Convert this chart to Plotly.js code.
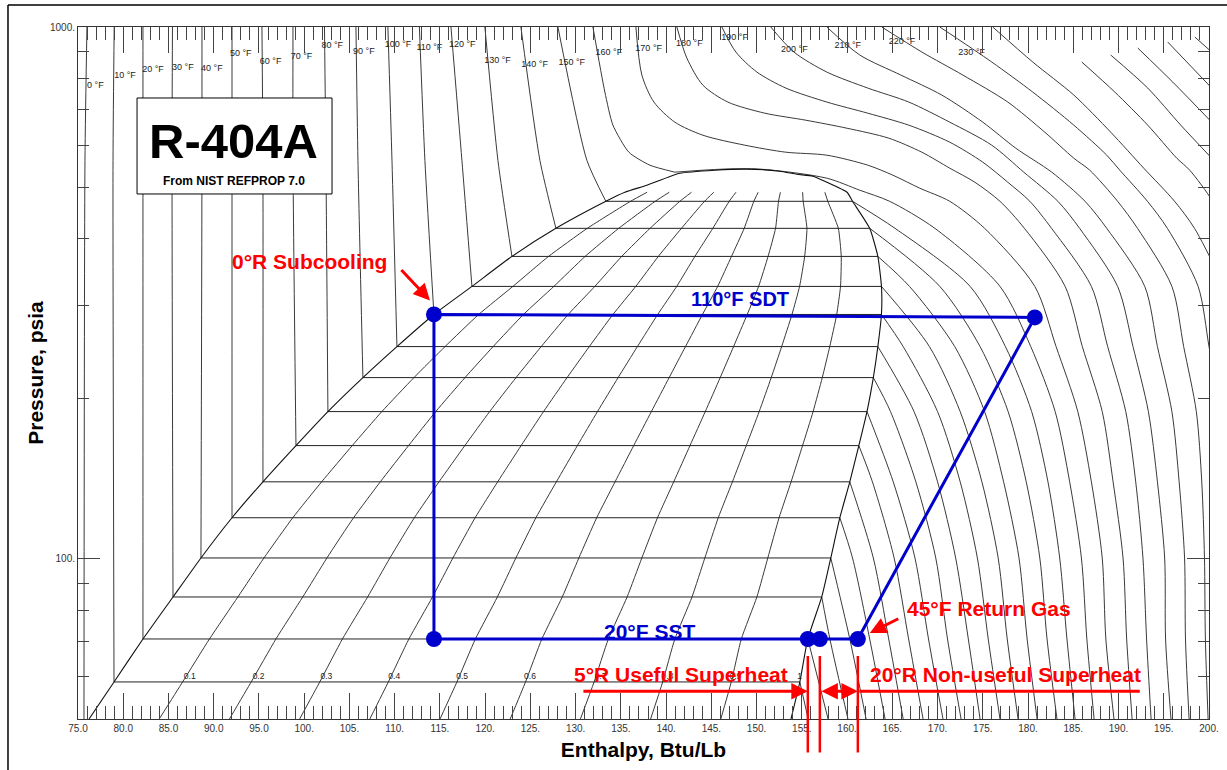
<!DOCTYPE html>
<html>
<head>
<meta charset="utf-8">
<script src="https://cdn.plot.ly/plotly-3.0.1.min.js"></script>
<style>html,body{margin:0;padding:0;background:#fff}#chart{width:1227px;height:770px}</style>
</head>
<body>
<div id="chart"></div>
<script>
// ---------------- DATA ----------------
// Saturation dome: index 0 = 50 psia (bottom), 1..15 = 10..150 °F, 16.. = near critical point
const liqH = [76.22, 78.98, 82.18, 85.50, 88.59, 92.02, 95.44, 99.09, 102.62, 106.49, 110.25, 114.34, 118.54, 122.96, 127.82, 133.34, 135.44, 137.87, 141.52, 145.4, 148.9];
const liqP = [50, 58.7, 70.7, 84.8, 100.4, 119.5, 139.6, 163.3, 189.2, 219.2, 250.7, 288.1, 325.3, 370.4, 418.3, 470.2, 489.0, 504.1, 530.9, 538.0, 540.4];
const vapH = [153.8, 154.78, 155.66, 157.2, 158.2, 159.2, 160.3, 161.3, 162.2, 162.9, 163.4, 163.8, 163.8, 163.4, 162.5, 160.6, 160.0, 157.76, 156.22, 154.45, 152.57];
const vapP = [50, 58.7, 70.7, 84.8, 100.4, 119.5, 139.6, 163.3, 189.2, 219.2, 250.7, 288.1, 325.3, 370.4, 418.3, 470.2, 489.0, 510.7, 524.2, 528.5, 535.7];
const satTemps = [10, 20, 30, 40, 50, 60, 70, 80, 90, 100, 110, 120, 130, 140, 150];
const qualities = [0.1, 0.2, 0.3, 0.4, 0.5, 0.6, 0.7, 0.8, 0.9];

// Sub-cooled liquid isotherms (0..150 °F): h at 1000 psia and at 561.6 psia
const subTemps = [0, 10, 20, 30, 40, 50, 60, 70, 80, 90, 100, 110, 120, 130, 140, 150];
const subTopH = [75.99, 79.0, 82.18, 85.44, 88.70, 92.02, 95.33, 98.76, 102.24, 105.72, 109.25, 112.73, 116.22, 119.97, 123.95, 128.04];
const subMidH = [75.77, 78.87, 82.18, 85.39, 88.70, 92.02, 95.44, 98.76, 102.40, 105.94, 109.70, 113.34, 117.43, 121.41, 126.05, 131.24];
const subMidP = 561.6;
const zeroLineBottomH = 75.66;

// Superheated isotherms
const shLevelP  = [470.2, 418.3, 325.3, 250.7, 189.2, 139.6, 100.4, 70.7, 50];
const shLevelT0 = [160, 150, 130, 110, 90, 70, 50, 30, 10];
const sh470 = [164.7, 171.35, 176.9, 180.2, 183.3, 186.3, 189.9, 193.2, 196.2, 200.4];
const sh418 = [165.3, 169.7, 175.2, 179.6, 182.6, 185.7, 188.7, 192.1, 195.4, 198.4, 201.8];
const sh325 = [166.9, 170.25, 173.6, 176.9, 180.75, 184.1, 187.0, 189.9, 192.9, 195.9, 198.8, 201.7];
const sh251 = [166.2, 169.1, 171.9, 174.7, 177.5, 180.3, 183.1, 186.0, 188.8, 191.6, 194.3, 197.2, 200.0];
const sh189 = [164.8, 167.4, 170.0, 172.5, 175.2, 177.8, 180.4, 183.0, 185.5, 188.2, 190.8, 193.3, 195.9, 198.6, 201.2];
const sh140 = [162.8, 165.1, 167.6, 170.0, 172.5, 174.9, 177.3, 179.8, 182.2, 184.6, 187.0, 189.4, 191.9, 194.3, 196.7, 199.2];
const sh100 = [160.6, 162.9, 165.2, 167.5, 169.8, 172.0, 174.4, 176.7, 179.0, 181.3, 183.5, 185.9, 188.2, 190.5, 192.7, 195.1, 197.3, 199.5];
const sh71  = [158.1, 160.3, 162.5, 164.6, 166.8, 169.0, 171.1, 173.4, 175.6, 177.7, 179.9, 182.1, 184.3, 186.5, 188.6, 190.9, 193.1, 195.2, 197.4, 199.6];
const sh50  = [155.7, 157.9, 160.1, 162.1, 164.2, 166.2, 168.4, 170.6, 172.6, 174.7, 176.9, 178.9, 181.0, 183.2, 185.2, 187.3, 189.5, 191.5, 193.6, 195.8, 197.8, 199.9];

// Near / super-critical isotherm upper parts
const sc160subH = [131.91, 133.23, 134.12, 135.88, 138.20, 140.97];
const sc160subP = [1000, 754.5, 653.8, 581.6, 549.8, 533.4];
const sc160H = [140.97, 146.16, 150.47, 157.76, 161.41];
const sc160P = [533.4, 540.4, 540.4, 519.7, 493.3];
const sc170H = [136.66, 137.32, 138.65, 140.97, 144.06, 148.70, 153.23, 157.76, 162.29, 165.06, 168.04];
const sc170P = [1000, 812.2, 722.6, 662.3, 626.0, 599.5, 581.6, 574.1, 549.8, 526.5, 497.6];
const sc180H = [141.19, 142.29, 144.06, 146.82, 150.91, 155.44, 159.97, 164.61, 168.26, 171.35, 174.12];
const sc180P = [1000, 874.3, 777.7, 722.6, 688.6, 668.0, 645.3, 618.0, 581.6, 542.7, 510.7];
const sc190H = [146.16, 147.71, 150.03, 153.23, 157.76, 162.29, 166.82, 171.35, 175.0, 177.76];
const sc190P = [1000, 897.3, 822.8, 767.7, 722.6, 688.6, 653.8, 607.3, 557.0, 510.7];
const sc200H = [151.57, 154.12, 157.76, 162.29, 166.82, 171.35, 175.99, 179.53];
const sc200P = [1000, 897.3, 822.8, 767.7, 722.6, 662.3, 599.5, 533.4];
const sc210H = [157.76, 161.41, 165.94, 170.47, 175.0, 178.65, 182.62];
const sc210P = [1000, 885.7, 812.2, 744.8, 662.3, 591.7, 533.4];
const sc220H = [163.84, 168.26, 172.79, 177.76, 181.85, 185.06, 186.82];
const sc220P = [1000, 897.3, 812.2, 722.6, 634.2, 566.7, 538.0];
const sc230H = [170.25, 175.99, 180.52, 185.06, 188.70, 190.14];
const sc230P = [1000, 859.3, 754.5, 653.8, 574.1, 538.0];
const sc240H = [176.10, 180.52, 185.06, 189.14, 192.79];
const sc240P = [1000, 859.3, 744.8, 634.2, 542.7];
const sc250H = [185.94, 189.59, 193.23, 196.44, 197.87];
const sc250P = [859.3, 754.5, 653.8, 566.7, 538.0];
const sc260H = [189.14, 193.23, 196.88, 200.30];
const sc260P = [885.7, 767.7, 653.8, 566.7];
const sc270H = [192.13, 195.99, 200.30];
const sc270P = [912.9, 787.9, 662.3];
const sc280H = [195.44, 200.30];
const sc280P = [937.0, 767.7];
const sc290H = [198.43, 200.30];
const sc290P = [957.6, 897.3];
const isoTemps = [10, 20, 30, 40, 50, 60, 70, 80, 90, 100, 110, 120, 130, 140, 150, 160, 170, 180, 190, 200, 210, 220, 230, 240, 250, 260, 270, 280, 290];

// Refrigeration cycle (R-404A, 110 °F SDT / 20 °F SST)
const cycleH = [114.34, 114.34, 155.66, 156.99, 161.19, 180.75];
const cycleP = [288.1, 70.7, 70.7, 70.7, 70.7, 284.4];

// Tick labels
const xTickVals = [75, 80, 85, 90, 95, 100, 105, 110, 115, 120, 125, 130, 135, 140, 145, 150, 155, 160, 165, 170, 175, 180, 185, 190, 195, 200];
const xTickText = ['75.0', '80.0', '85.0', '90.0', '95.0', '100.', '105.', '110.', '115.', '120.', '125.', '130.', '135.', '140.', '145.', '150.', '155.', '160.', '165.', '170.', '175.', '180.', '185.', '190.', '195.', '200.'];
const yTickVals = [100, 1000];
const yTickText = ['100.', '1000.'];
const yMinorVals = [50, 60, 70, 80, 90, 200, 300, 400, 500, 600, 700, 800, 900];

// Isotherm labels
const labelTemps = [0, 10, 20, 30, 40, 50, 60, 70, 80, 90, 100, 110, 120, 130, 140, 150, 160, 170, 180, 190, 200, 210, 220, 230];
const qualityLabels = ['0.1', '0.2', '0.3', '0.4', '0.5', '0.6', '0.7', '0.8', '0.9', '1'];

// ---------------- label placement (positions, not data) ----------------
const labelH = [76.0, 79.0, 82.1, 85.4, 88.6, 91.8, 95.1, 98.5, 101.9, 105.4, 108.9, 112.4, 116.0, 119.9, 124.0, 128.1, 132.2, 136.6, 141.1, 146.1, 152.7, 158.6, 164.6, 172.3];
const labelP = [774.2, 808.6, 829.9, 837.1, 833.5, 889.5, 859.3, 878.1, 920.9, 897.3, 924.9, 912.9, 924.9, 863.0, 848.1, 855.5, 893.4, 909.0, 928.9, 953.4, 905.1, 920.9, 937.0, 893.4];
const qLabelH = [86.7, 94.3, 101.8, 109.3, 116.8, 124.3, 132.1, 139.5, 147.0, 154.5];
const qLabelP = 60;

// ---------------- build traces ----------------
const LINE = '#3a3a3a';
const shRows = [sh470, sh418, sh325, sh251, sh189, sh140, sh100, sh71, sh50];
const scParts = {160:[sc160H,sc160P],170:[sc170H,sc170P],180:[sc180H,sc180P],190:[sc190H,sc190P],200:[sc200H,sc200P],210:[sc210H,sc210P],220:[sc220H,sc220P],230:[sc230H,sc230P],240:[sc240H,sc240P],250:[sc250H,sc250P],260:[sc260H,sc260P],270:[sc270H,sc270P],280:[sc280H,sc280P],290:[sc290H,sc290P]};

// Dome outline
const domeX = liqH.concat(vapH.slice().reverse());
const domeY = liqP.concat(vapP.slice().reverse());

// Horizontal isotherm segments inside the dome
const horX = [], horY = [];
for (let j = 1; j <= satTemps.length; j++) {
  horX.push(liqH[j], vapH[j], null);
  horY.push(liqP[j], vapP[j], null);
}

// Quality lines (lever rule between saturated liquid and vapour)
const qX = [], qY = [];
qualities.forEach(q => {
  for (let j = 0; j <= 16; j++) {
    qX.push(liqH[j] + q * (vapH[j] - liqH[j]));
    qY.push(liqP[j]);
  }
  qX.push(null); qY.push(null);
});

// Sub-cooled isotherms
const subX = [], subY = [];
subTemps.forEach((T, k) => {
  subX.push(subTopH[k], subMidH[k]);
  subY.push(1000, subMidP);
  if (k === 0) { subX.push(zeroLineBottomH); subY.push(50); }
  else { subX.push(liqH[k]); subY.push(liqP[k]); }
  subX.push(null); subY.push(null);
});
subX.push(...sc160subH, null); subY.push(...sc160subP, null);

// Superheated / supercritical isotherms
const shX = [], shY = [];
isoTemps.forEach(T => {
  const hs = [], ps = [];
  const i = satTemps.indexOf(T);
  if (i >= 0) { hs.push(vapH[i + 1]); ps.push(vapP[i + 1]); }
  else if (scParts[T]) { hs.push(...scParts[T][0]); ps.push(...scParts[T][1]); }
  const pStart = ps[ps.length - 1];
  shLevelP.forEach((lp, k) => {
    const row = shRows[k];
    const idx = (T - shLevelT0[k]) / 10;
    if (lp < pStart && idx >= 0 && idx < row.length) { hs.push(row[idx]); ps.push(lp); }
  });
  shX.push(...hs, null); shY.push(...ps, null);
});

const cycOrder = [0, 1, 4, 5, 0];
const BLUE = '#0000CC', RED = '#FF0000';

const traces = [
  {x: subX, y: subY, mode: 'lines', line: {color: LINE, width: 1, shape: 'spline', smoothing: 0.6}, connectgaps: false, hoverinfo: 'skip'},
  {x: shX, y: shY, mode: 'lines', line: {color: LINE, width: 1, shape: 'spline', smoothing: 0.8}, connectgaps: false, hoverinfo: 'skip'},
  {x: qX, y: qY, mode: 'lines', line: {color: LINE, width: 1, shape: 'spline', smoothing: 0.5}, connectgaps: false, hoverinfo: 'skip'},
  {x: horX, y: horY, mode: 'lines', line: {color: '#222', width: 1}, connectgaps: false, hoverinfo: 'skip'},
  {x: domeX, y: domeY, mode: 'lines', line: {color: '#111', width: 1.1, shape: 'spline', smoothing: 0.5}, hoverinfo: 'skip'},
  {x: labelH, y: labelP, mode: 'text', text: labelTemps.map(t => t + ' °F'), textposition: 'middle right', textfont: {size: 9, color: '#222'}, hoverinfo: 'skip'},
  {x: qLabelH, y: qualityLabels.map(() => qLabelP), mode: 'text', text: qualityLabels, textposition: 'middle right', textfont: {size: 8.5, color: '#222'}, hoverinfo: 'skip'},
  {x: cycOrder.map(i => cycleH[i]), y: cycOrder.map(i => cycleP[i]), mode: 'lines', line: {color: BLUE, width: 3}, hoverinfo: 'skip'},
  {x: cycleH, y: cycleP, mode: 'markers', marker: {color: BLUE, size: 16}, hoverinfo: 'skip'}
];

const L = Math.log10;
const redFont = {size: 21, color: RED};
const arrowY = L(56.4);
const annotations = [
  {xref: 'paper', yref: 'paper', x: 0.1379, y: 0.8353, xanchor: 'center', yanchor: 'middle', text: '<b>R-404A</b>', showarrow: false, font: {size: 49, color: '#000'}},
  {xref: 'paper', yref: 'paper', x: 0.1379, y: 0.7775, xanchor: 'center', yanchor: 'middle', text: '<b>From NIST REFPROP 7.0</b>', showarrow: false, font: {size: 12, color: '#000'}},
  {x: 100.64, y: L(362.5), text: '<b>0°R Subcooling</b>', showarrow: false, font: redFont},
  {x: 113.9, y: L(306.1), ax: -30, ay: -32, text: '', showarrow: true, arrowhead: 2, arrowsize: 1.1, arrowwidth: 3, arrowcolor: RED, standoff: 0},
  {x: 148.15, y: L(307.4), text: '<b>110°F SDT</b>', showarrow: false, font: {size: 20, color: BLUE}},
  {x: 138.2, y: L(73.18), text: '<b>20°F SST</b>', showarrow: false, font: {size: 21, color: BLUE}},
  {x: 166.38, y: L(80.5), xanchor: 'left', text: '<b>45°F Return Gas</b>', showarrow: false, font: redFont},
  {x: 162.51, y: L(72.55), ax: 30, ay: -15, text: '', showarrow: true, arrowhead: 2, arrowsize: 1.1, arrowwidth: 3, arrowcolor: RED, standoff: 0},
  {x: 153.67, y: L(60.74), xanchor: 'right', text: '<b>5°R Useful Superheat</b>', showarrow: false, font: redFont},
  {x: 162.29, y: L(60.74), xanchor: 'left', text: '<b>20°R Non-useful Superheat</b>', showarrow: false, font: redFont},
  {x: cycleH[2], y: arrowY, ax: 130.69, ay: arrowY, axref: 'x', ayref: 'y', text: '', showarrow: true, arrowhead: 2, arrowsize: 1.1, arrowwidth: 3, arrowcolor: RED, standoff: 0},
  {x: cycleH[4], y: arrowY, ax: cycleH[3], ay: arrowY, axref: 'x', ayref: 'y', text: '', showarrow: true, arrowside: 'end+start', arrowhead: 2, startarrowhead: 2, arrowsize: 1.1, startarrowsize: 1.1, arrowwidth: 3, arrowcolor: RED, standoff: 0, startstandoff: 0},
  {x: 192.35, y: arrowY, ax: cycleH[4], ay: arrowY, axref: 'x', ayref: 'y', text: '', showarrow: true, arrowhead: 0, arrowwidth: 3, arrowcolor: RED, standoff: 0}
];
[2, 3, 4].forEach(i => annotations.push({x: cycleH[i], y: L(65.7), ax: 0, ay: 98, text: '', showarrow: true, arrowhead: 0, arrowwidth: 2.5, arrowcolor: RED, standoff: 0}));

const layout = {
  width: 1227, height: 770,
  margin: {l: 78, r: 18, t: 27, b: 51, pad: 0},
  paper_bgcolor: '#fff', plot_bgcolor: '#fff',
  font: {family: 'Liberation Sans, Arial, sans-serif', color: '#222', size: 10},
  showlegend: false, hovermode: false,
  xaxis: {
    range: [75, 200], tickmode: 'array', tickvals: xTickVals, ticktext: xTickText,
    ticks: 'inside', ticklen: 26, tickwidth: 1, tickcolor: '#444',
    showline: true, linecolor: '#333', linewidth: 1, mirror: 'ticks',
    showgrid: false, zeroline: false, tickfont: {size: 10, color: '#333'},
    minor: {ticks: 'inside', ticklen: 13, tick0: 75, dtick: 1, tickcolor: '#444', tickwidth: 1, showgrid: false},
    title: {text: '<b>Enthalpy, Btu/Lb</b>', font: {size: 21, color: '#000'}, standoff: 9}
  },
  yaxis: {
    type: 'log', range: [L(50), 3], tickmode: 'array', tickvals: yTickVals, ticktext: yTickText,
    ticks: 'inside', ticklen: 22, tickwidth: 1, tickcolor: '#444',
    showline: true, linecolor: '#333', linewidth: 1, mirror: 'ticks',
    showgrid: false, zeroline: false, tickfont: {size: 10, color: '#333'},
    minor: {ticks: 'inside', ticklen: 11, tickmode: 'array', tickvals: yMinorVals, tickcolor: '#444', tickwidth: 1, showgrid: false},
    title: {text: '<b>Pressure, psia</b>', font: {size: 21, color: '#000'}, standoff: 0}
  },
  shapes: [
    {type: 'rect', xref: 'paper', yref: 'paper', x0: 0.0522, x1: 0.2246, y0: 0.7587, y1: 0.8974, line: {color: '#000', width: 1}, fillcolor: '#fff', layer: 'above'},
    {type: 'line', xref: 'paper', yref: 'paper', x0: -0.0619, x1: -0.0619, y0: -0.08, y1: 1.0318, line: {color: '#000', width: 1.5}},
    {type: 'line', xref: 'paper', yref: 'paper', x0: -0.0619, x1: 1.02, y0: 1.0318, y1: 1.0318, line: {color: '#000', width: 1.5}}
  ],
  annotations: annotations
};

Plotly.newPlot('chart', traces, layout, {displayModeBar: false, staticPlot: true});
</script>
</body>
</html>
